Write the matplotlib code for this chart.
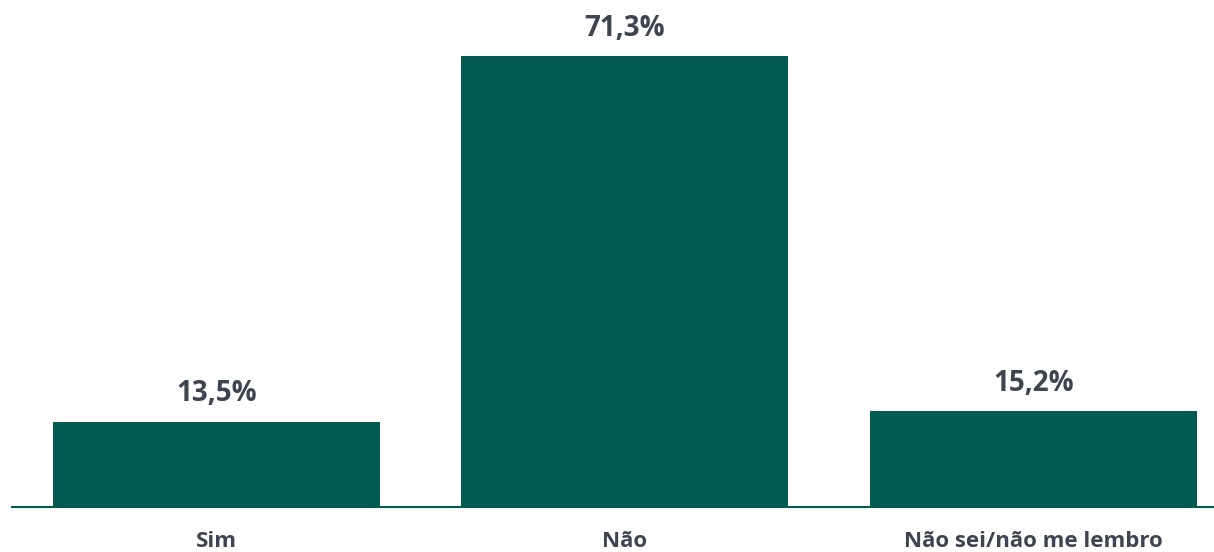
import matplotlib
matplotlib.use("Agg")
import matplotlib.pyplot as plt

categories = ["Sim", "Não", "Não sei/não me lembro"]
values = [13.5, 71.3, 15.2]
value_labels = ["13,5%", "71,3%", "15,2%"]

bar_color = "#035a50"
text_color = "#3f4550"
font = "Open Sans"

fig = plt.figure(figsize=(12.14, 5.52), dpi=100)
ax = fig.add_axes([12 / 1214, 45 / 552, 1225.5 / 1214, 507 / 552])

x = list(range(len(categories)))
ax.bar(x, values, width=0.8, color=bar_color, zorder=2)
ax.set_xlim(-0.5, 2.5)
ax.set_ylim(0, 80.15)

for xi, v, lab in zip(x, values, value_labels):
    ax.annotate(lab, (xi, v), xytext=(0, 14.5), textcoords="offset points",
                ha="center", va="baseline", fontsize=20, fontweight="bold",
                color=text_color, family=font)

ax.set_xticks(x)
ax.set_xticklabels(categories, fontsize=16, fontweight="bold", color=text_color, family=font)
ax.tick_params(axis="x", length=0, pad=17)
ax.set_yticks([])
for s in ["top", "right", "left"]:
    ax.spines[s].set_visible(False)
ax.spines["bottom"].set_color(bar_color)
ax.spines["bottom"].set_linewidth(1.5)

fig.savefig("out.png", dpi=100)
